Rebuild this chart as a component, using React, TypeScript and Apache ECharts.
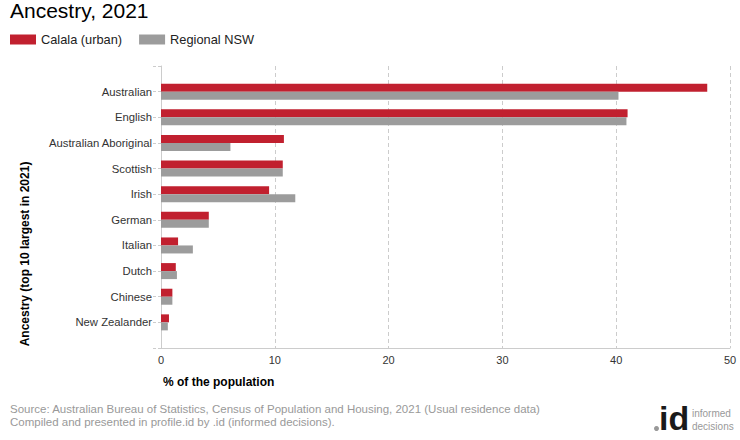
import React, { useEffect, useRef } from "react";
import * as echarts from "echarts";

const categories = [
  "Australian",
  "English",
  "Australian Aboriginal",
  "Scottish",
  "Irish",
  "German",
  "Italian",
  "Dutch",
  "Chinese",
  "New Zealander",
];
const calalaValues = [48.0, 41.0, 10.8, 10.7, 9.5, 4.2, 1.5, 1.3, 1.0, 0.7];
const regionalValues = [40.2, 40.9, 6.1, 10.7, 11.8, 4.2, 2.8, 1.4, 1.0, 0.6];
const seriesNames = ["Calala (urban)", "Regional NSW"];
const xTicks = { min: 0, max: 50, interval: 10 };

const FONT = "Arial, 'Liberation Sans', sans-serif";
const RED = "#C1202F";
const GREY = "#9C9C9C";

export default function App() {
  const ref = useRef<HTMLDivElement>(null);
  useEffect(() => {
    document.body.style.margin = "0";
    if (!ref.current) return;
    const chart = echarts.init(ref.current, null, { renderer: "svg" });
    // pad the category axis with an empty slot at each end (axis spans one extra step above and below)
    const yCats = ["", ...categories, ""];
    const pad = (arr: number[]) => [null, ...arr, null];
    chart.setOption({
      animation: false,
      textStyle: { fontFamily: FONT },
      legend: {
        left: 10,
        top: 33,
        padding: 0,
        itemWidth: 26,
        itemHeight: 10,
        itemGap: 17,
        icon: "rect",
        textStyle: { fontSize: 12.8, color: "#222", fontFamily: FONT },
        data: seriesNames,
      },
      grid: { left: 161, right: 10, top: 66, bottom: 92, containLabel: false },
      xAxis: {
        type: "value",
        min: xTicks.min,
        max: xTicks.max,
        interval: xTicks.interval,
        axisLine: { show: true, lineStyle: { color: "#ccc", width: 1 } },
        axisTick: { show: false },
        axisLabel: { color: "#333", fontSize: 11, margin: 6, fontFamily: FONT },
        splitLine: { show: true, lineStyle: { color: "#ccc", type: [4, 3], width: 1 } },
      },
      yAxis: {
        type: "category",
        data: yCats,
        inverse: true,
        boundaryGap: false,
        axisLine: { show: true, lineStyle: { color: "#ccc", width: 1 } },
        axisTick: {
          show: true,
          interval: 0,
          length: 8,
          lineStyle: { color: "#ccc", type: [3, 2] },
        },
        axisLabel: { interval: 0, color: "#333", fontSize: 11.3, margin: 9, fontFamily: FONT },
        splitLine: { show: false },
      },
      series: [
        {
          name: seriesNames[0],
          type: "bar",
          data: pad(calalaValues),
          barWidth: 8,
          barGap: "0%",
          itemStyle: { color: RED },
        },
        {
          name: seriesNames[1],
          type: "bar",
          data: pad(regionalValues),
          barWidth: 8,
          barGap: "0%",
          itemStyle: { color: GREY },
        },
      ],
      graphic: [
        {
          type: "text",
          left: 10,
          top: 0,
          style: { text: "Ancestry, 2021", font: `21px ${FONT}`, fill: "#000" },
        },
        {
          type: "text",
          x: 25,
          y: 254,
          rotation: Math.PI / 2,
          style: {
            text: "Ancestry (top 10 largest in 2021)",
            font: `bold 12px ${FONT}`,
            fill: "#000",
            align: "center",
            verticalAlign: "middle",
          },
        },
        {
          type: "text",
          x: 163,
          y: 382,
          style: {
            text: "% of the population",
            font: `bold 12px ${FONT}`,
            fill: "#000",
            align: "left",
            verticalAlign: "middle",
          },
        },
        {
          type: "text",
          x: 10,
          y: 409,
          style: {
            text: "Source: Australian Bureau of Statistics, Census of Population and Housing, 2021 (Usual residence data)",
            font: `11.5px ${FONT}`,
            fill: "#999",
            verticalAlign: "middle",
          },
        },
        {
          type: "text",
          x: 10,
          y: 422,
          style: {
            text: "Compiled and presented in profile.id by .id (informed decisions).",
            font: `11.5px ${FONT}`,
            fill: "#999",
            verticalAlign: "middle",
          },
        },
        {
          type: "circle",
          shape: { cx: 656.5, cy: 428.5, r: 2.5 },
          style: { fill: "#999" },
        },
        {
          type: "text",
          x: 659,
          y: 418,
          style: {
            text: "id",
            font: `bold 34px ${FONT}`,
            fill: "#1a1a1a",
            verticalAlign: "middle",
          },
        },
        {
          type: "text",
          x: 692,
          y: 413,
          style: { text: "informed", font: `10px ${FONT}`, fill: "#999", verticalAlign: "middle" },
        },
        {
          type: "text",
          x: 692,
          y: 426,
          style: { text: "decisions", font: `10px ${FONT}`, fill: "#999", verticalAlign: "middle" },
        },
      ],
    });
    return () => chart.dispose();
  }, []);
  return (
    <div
      ref={ref}
      style={{ position: "fixed", left: 0, top: 0, width: 740, height: 440, background: "#fff" }}
    />
  );
}
